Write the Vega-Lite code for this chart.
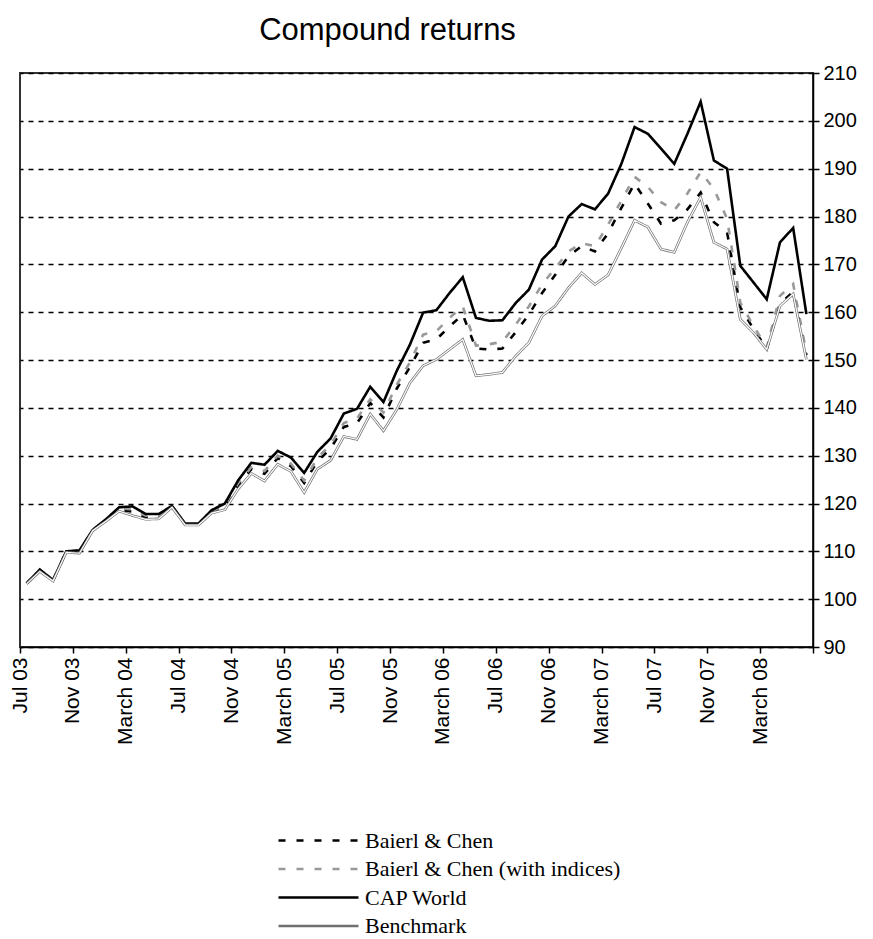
{
  "$schema": "https://vega.github.io/schema/vega-lite/v6.json",
  "width": 793,
  "height": 574,
  "autosize": {"type": "none"},
  "padding": {"left": 20, "top": 73, "right": 60, "bottom": 292},
  "background": "white",
  "title": {"text": "Compound returns", "font": "Liberation Sans", "fontSize": 31, "fontWeight": "normal", "color": "#000", "anchor": "middle", "dx": -29, "offset": 16},
  "data": {"values": [
    {"t":0,"Baierl & Chen":103.3,"Baierl & Chen (with indices)":103.3,"CAP World":103.3,"Benchmark":103.2},
    {"t":1,"Baierl & Chen":106.0,"Baierl & Chen (with indices)":106.1,"CAP World":106.2,"Benchmark":105.8},
    {"t":2,"Baierl & Chen":103.9,"Baierl & Chen (with indices)":104.0,"CAP World":104.0,"Benchmark":103.8},
    {"t":3,"Baierl & Chen":110.0,"Baierl & Chen (with indices)":110.0,"CAP World":110.0,"Benchmark":109.8},
    {"t":4,"Baierl & Chen":110.0,"Baierl & Chen (with indices)":110.1,"CAP World":110.2,"Benchmark":109.6},
    {"t":5,"Baierl & Chen":114.4,"Baierl & Chen (with indices)":114.5,"CAP World":114.5,"Benchmark":114.3},
    {"t":6,"Baierl & Chen":116.5,"Baierl & Chen (with indices)":116.6,"CAP World":116.7,"Benchmark":116.3},
    {"t":7,"Baierl & Chen":118.7,"Baierl & Chen (with indices)":119.0,"CAP World":119.2,"Benchmark":118.4},
    {"t":8,"Baierl & Chen":118.3,"Baierl & Chen (with indices)":118.8,"CAP World":119.4,"Benchmark":117.5},
    {"t":9,"Baierl & Chen":117.0,"Baierl & Chen (with indices)":117.5,"CAP World":117.8,"Benchmark":116.7},
    {"t":10,"Baierl & Chen":117.0,"Baierl & Chen (with indices)":117.4,"CAP World":117.8,"Benchmark":116.8},
    {"t":11,"Baierl & Chen":119.4,"Baierl & Chen (with indices)":119.5,"CAP World":119.5,"Benchmark":119.2},
    {"t":12,"Baierl & Chen":115.6,"Baierl & Chen (with indices)":115.7,"CAP World":115.8,"Benchmark":115.5},
    {"t":13,"Baierl & Chen":115.6,"Baierl & Chen (with indices)":115.7,"CAP World":115.8,"Benchmark":115.5},
    {"t":14,"Baierl & Chen":118.3,"Baierl & Chen (with indices)":118.4,"CAP World":118.6,"Benchmark":118.0},
    {"t":15,"Baierl & Chen":119.3,"Baierl & Chen (with indices)":119.6,"CAP World":120.0,"Benchmark":118.7},
    {"t":16,"Baierl & Chen":123.8,"Baierl & Chen (with indices)":124.2,"CAP World":124.8,"Benchmark":123.0},
    {"t":17,"Baierl & Chen":127.2,"Baierl & Chen (with indices)":127.6,"CAP World":128.5,"Benchmark":126.3},
    {"t":18,"Baierl & Chen":126.2,"Baierl & Chen (with indices)":126.8,"CAP World":128.1,"Benchmark":124.7},
    {"t":19,"Baierl & Chen":129.5,"Baierl & Chen (with indices)":130.0,"CAP World":131.0,"Benchmark":128.2},
    {"t":20,"Baierl & Chen":127.8,"Baierl & Chen (with indices)":128.3,"CAP World":129.6,"Benchmark":126.7},
    {"t":21,"Baierl & Chen":124.3,"Baierl & Chen (with indices)":124.8,"CAP World":126.4,"Benchmark":122.3},
    {"t":22,"Baierl & Chen":128.8,"Baierl & Chen (with indices)":129.5,"CAP World":130.8,"Benchmark":127.2},
    {"t":23,"Baierl & Chen":131.5,"Baierl & Chen (with indices)":132.3,"CAP World":133.6,"Benchmark":129.0},
    {"t":24,"Baierl & Chen":136.0,"Baierl & Chen (with indices)":136.8,"CAP World":138.8,"Benchmark":134.0},
    {"t":25,"Baierl & Chen":136.8,"Baierl & Chen (with indices)":137.8,"CAP World":139.8,"Benchmark":133.4},
    {"t":26,"Baierl & Chen":141.0,"Baierl & Chen (with indices)":141.8,"CAP World":144.4,"Benchmark":138.7},
    {"t":27,"Baierl & Chen":138.0,"Baierl & Chen (with indices)":139.0,"CAP World":141.2,"Benchmark":135.2},
    {"t":28,"Baierl & Chen":144.0,"Baierl & Chen (with indices)":144.8,"CAP World":147.7,"Benchmark":139.6},
    {"t":29,"Baierl & Chen":148.5,"Baierl & Chen (with indices)":149.5,"CAP World":153.2,"Benchmark":145.2},
    {"t":30,"Baierl & Chen":153.6,"Baierl & Chen (with indices)":155.3,"CAP World":159.9,"Benchmark":148.8},
    {"t":31,"Baierl & Chen":154.3,"Baierl & Chen (with indices)":156.0,"CAP World":160.4,"Benchmark":150.1},
    {"t":32,"Baierl & Chen":157.0,"Baierl & Chen (with indices)":158.8,"CAP World":164.0,"Benchmark":152.2},
    {"t":33,"Baierl & Chen":159.5,"Baierl & Chen (with indices)":161.2,"CAP World":167.3,"Benchmark":154.3},
    {"t":34,"Baierl & Chen":152.4,"Baierl & Chen (with indices)":153.0,"CAP World":158.8,"Benchmark":146.7},
    {"t":35,"Baierl & Chen":152.2,"Baierl & Chen (with indices)":153.3,"CAP World":158.2,"Benchmark":147.0},
    {"t":36,"Baierl & Chen":152.4,"Baierl & Chen (with indices)":153.8,"CAP World":158.3,"Benchmark":147.4},
    {"t":37,"Baierl & Chen":155.8,"Baierl & Chen (with indices)":157.4,"CAP World":161.9,"Benchmark":150.8},
    {"t":38,"Baierl & Chen":159.5,"Baierl & Chen (with indices)":161.2,"CAP World":164.7,"Benchmark":153.6},
    {"t":39,"Baierl & Chen":164.0,"Baierl & Chen (with indices)":165.8,"CAP World":171.0,"Benchmark":159.2},
    {"t":40,"Baierl & Chen":167.8,"Baierl & Chen (with indices)":169.2,"CAP World":173.8,"Benchmark":161.3},
    {"t":41,"Baierl & Chen":171.7,"Baierl & Chen (with indices)":172.7,"CAP World":180.0,"Benchmark":165.1},
    {"t":42,"Baierl & Chen":173.8,"Baierl & Chen (with indices)":174.4,"CAP World":182.6,"Benchmark":168.2},
    {"t":43,"Baierl & Chen":172.7,"Baierl & Chen (with indices)":173.8,"CAP World":181.5,"Benchmark":165.8},
    {"t":44,"Baierl & Chen":176.5,"Baierl & Chen (with indices)":178.3,"CAP World":184.8,"Benchmark":167.8},
    {"t":45,"Baierl & Chen":181.8,"Baierl & Chen (with indices)":183.3,"CAP World":191.0,"Benchmark":173.4},
    {"t":46,"Baierl & Chen":186.9,"Baierl & Chen (with indices)":188.3,"CAP World":198.7,"Benchmark":179.2},
    {"t":47,"Baierl & Chen":182.7,"Baierl & Chen (with indices)":186.2,"CAP World":197.3,"Benchmark":177.8},
    {"t":48,"Baierl & Chen":178.5,"Baierl & Chen (with indices)":183.0,"CAP World":194.2,"Benchmark":173.2},
    {"t":49,"Baierl & Chen":179.2,"Baierl & Chen (with indices)":181.3,"CAP World":191.0,"Benchmark":172.5},
    {"t":50,"Baierl & Chen":181.5,"Baierl & Chen (with indices)":184.8,"CAP World":197.3,"Benchmark":178.8},
    {"t":51,"Baierl & Chen":185.0,"Baierl & Chen (with indices)":189.3,"CAP World":204.0,"Benchmark":184.0},
    {"t":52,"Baierl & Chen":178.8,"Baierl & Chen (with indices)":185.8,"CAP World":191.7,"Benchmark":174.6},
    {"t":53,"Baierl & Chen":176.7,"Baierl & Chen (with indices)":179.5,"CAP World":190.0,"Benchmark":173.2},
    {"t":54,"Baierl & Chen":161.0,"Baierl & Chen (with indices)":162.0,"CAP World":169.7,"Benchmark":158.5},
    {"t":55,"Baierl & Chen":156.5,"Baierl & Chen (with indices)":157.1,"CAP World":166.2,"Benchmark":155.7},
    {"t":56,"Baierl & Chen":152.3,"Baierl & Chen (with indices)":152.6,"CAP World":162.7,"Benchmark":152.2},
    {"t":57,"Baierl & Chen":161.8,"Baierl & Chen (with indices)":163.4,"CAP World":174.6,"Benchmark":161.3},
    {"t":58,"Baierl & Chen":164.2,"Baierl & Chen (with indices)":165.9,"CAP World":177.6,"Benchmark":163.8},
    {"t":59,"Baierl & Chen":151.0,"Baierl & Chen (with indices)":151.5,"CAP World":159.6,"Benchmark":150.1}
  ]},
  "transform": [{"fold": ["Baierl & Chen", "Baierl & Chen (with indices)", "CAP World", "Benchmark"], "as": ["series", "value"]}],
  "encoding": {
    "x": {"field": "t", "type": "quantitative", "scale": {"domain": [-0.5, 59.5], "nice": false, "zero": false},
      "axis": {"values": [-0.5, 3.5, 7.5, 11.5, 15.5, 19.5, 23.5, 27.5, 31.5, 35.5, 39.5, 43.5, 47.5, 51.5, 55.5, 59.5],
        "labelExpr": "['Jul 03','Nov 03','March 04','Jul 04','Nov 04','March 05','Jul 05','Nov 05','March 06','Jul 06','Nov 06','March 07','Jul 07','Nov 07','March 08',''][round((datum.value + 0.5) / 4)]",
        "labelAngle": 270, "labelFont": "Liberation Sans", "labelFontSize": 21, "labelColor": "#000", "labelPadding": 4,
        "tickSize": 6, "tickColor": "#000", "tickWidth": 1.5, "domainColor": "#000", "domainWidth": 1.5, "grid": false, "title": null, "labelOverlap": false, "labelFlush": false}},
    "y": {"field": "value", "type": "quantitative", "scale": {"domain": [90, 210], "nice": false, "zero": false},
      "axis": {"orient": "right", "values": [90, 100, 110, 120, 130, 140, 150, 160, 170, 180, 190, 200, 210],
        "labelFont": "Liberation Sans", "labelFontSize": 20, "labelColor": "#000", "labelPadding": 4,
        "tickSize": 6, "tickColor": "#000", "tickWidth": 1.5, "domainColor": "#000", "domainWidth": 1.5,
        "grid": true, "gridDash": [5, 5], "gridColor": "#000", "gridWidth": 1.3, "title": null, "labelFlush": false}}
  },
  "layer": [
    {"mark": {"type": "line", "strokeCap": "butt", "strokeJoin": "miter"},
      "encoding": {
        "color": {"field": "series", "type": "nominal", "title": null,
          "scale": {"domain": ["Baierl & Chen", "Baierl & Chen (with indices)", "CAP World", "Benchmark"], "range": ["#000000", "#999999", "#000000", "#707070"]}},
        "strokeDash": {"field": "series", "type": "nominal", "title": null,
          "scale": {"domain": ["Baierl & Chen", "Baierl & Chen (with indices)", "CAP World", "Benchmark"], "range": [[7, 11], [7, 11], [1, 0], [1, 0]]}},
        "strokeWidth": {"field": "series", "type": "nominal", "title": null,
          "scale": {"domain": ["Baierl & Chen", "Baierl & Chen (with indices)", "CAP World", "Benchmark"], "range": [2.6, 2.6, 3.2, 3.6]}},
        "order": {"field": "t", "type": "quantitative"}
      }},
    {"transform": [{"filter": "datum.series === 'Benchmark'"}],
      "mark": {"type": "line", "color": "#ffffff", "strokeWidth": 1.2},
      "encoding": {"order": {"field": "t", "type": "quantitative"}}}
  ],
  "config": {
    "view": {"stroke": "#333333", "strokeWidth": 2},
    "legend": {"orient": "none", "legendX": 287, "legendY": 756, "symbolType": "M-4,0H4", "symbolSize": 400,
      "labelFont": "Liberation Serif", "labelFontSize": 22, "labelColor": "#000", "labelOffset": 35, "rowPadding": 5.5, "labelLimit": 0}
  }
}
